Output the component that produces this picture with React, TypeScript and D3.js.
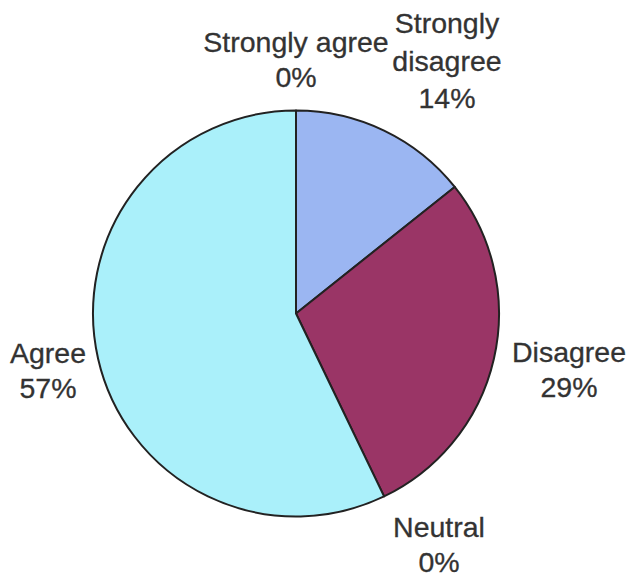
import React from "react";
import * as d3 from "d3";

const categories = ["Strongly disagree", "Disagree", "Neutral", "Agree", "Strongly agree"];
const counts = [1, 2, 0, 4, 0];
const percentLabels = ["14%", "29%", "0%", "57%", "0%"];
const colors = ["#9bb6f2", "#9a3566", "#ffffcc", "#aaf0fa", "#ccffff"];
// label lines (category text may wrap)
const labelLines = [["Strongly", "disagree", "14%"], ["Disagree", "29%"], ["Neutral", "0%"], ["Agree", "57%"], ["Strongly agree", "0%"]];

const W = 631, H = 580;
const cx = 296, cy = 313.5, R = 203;

// label anchor positions (first line baseline)
const labelPos: [number, number][] = [
  [447, 33],
  [569, 362],
  [439, 537],
  [48, 363],
  [296, 52],
];

export default function App() {
  const pie = d3.pie<number>().sort(null).value((d) => d)(counts);
  const arc = d3.arc<d3.PieArcDatum<number>>().innerRadius(0).outerRadius(R);
  return (
    <svg width={W} height={H} style={{ position: "absolute", left: 0, top: 0, background: "#fff" }}>
      <g transform={`translate(${cx},${cy})`}>
        {pie.map((p, i) =>
          p.value > 0 ? (
            <path key={i} d={arc(p) || ""} fill={colors[i]} stroke="#222" strokeWidth={2} strokeLinejoin="round" />
          ) : null
        )}
      </g>
      {labelLines.map((lines, i) => (
        <text
          key={i}
          x={labelPos[i][0]}
          y={labelPos[i][1]}
          textAnchor="middle"
          fontFamily="Liberation Sans, Arial, sans-serif"
          fontSize={28.5}
          fill="#333"
          stroke="#333"
          strokeWidth={0.3}
        >
          {lines.map((l, j) => (
            <tspan key={j} x={labelPos[i][0]} dy={j === 0 ? 0 : i === 0 ? 37.5 : 35}>
              {l}
            </tspan>
          ))}
        </text>
      ))}
    </svg>
  );
}
